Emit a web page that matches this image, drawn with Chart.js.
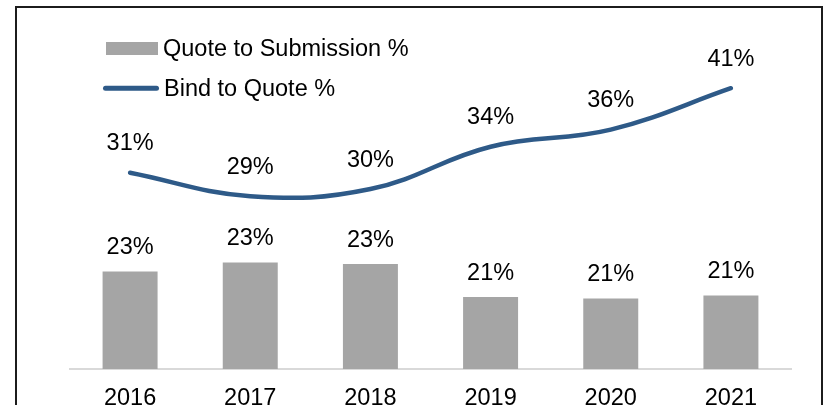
<!DOCTYPE html>
<html>
<head>
<meta charset="utf-8">
<script src="https://cdn.jsdelivr.net/npm/chart.js@4.4.1/dist/chart.umd.min.js"></script>
<style>
  html, body { margin: 0; padding: 0; background: #fff; overflow: hidden; }
  #frame { position: absolute; left: 15px; top: 6px; width: 804px; height: 430px; border: 2px solid #1c1c1c; }
  #wrap { position: absolute; left: 0; top: 0; width: 826px; height: 405px; }
</style>
</head>
<body>
<div id="frame"></div>
<div id="wrap"><canvas id="chart"></canvas></div>
<script>
const years = ['2016', '2017', '2018', '2019', '2020', '2021'];
const quoteToSubmission = [22.5, 23.1, 23.0, 20.8, 20.7, 20.9];
const bindToQuote = [31.3, 28.7, 29.5, 34.2, 36.1, 40.7];

const FONT = '"Liberation Sans", Arial, sans-serif';
const FONT_SIZE = 23.5;

const percentLabel = (value) => `${Math.round(value)}%`;

// legend sits inside the plot, top-left, one item per row
const insideLegend = {
    id: 'insideLegend',
    afterDraw(chart) {
        const { ctx } = chart;
        const [bars, line] = chart.data.datasets;
        ctx.save();
        ctx.font = `${FONT_SIZE}px ${FONT}`;
        ctx.textBaseline = 'alphabetic';

        ctx.fillStyle = bars.backgroundColor;
        ctx.fillRect(106, 42, 52, 13);
        ctx.fillStyle = '#000';
        ctx.fillText(bars.label, 163, 56);

        ctx.strokeStyle = line.borderColor;
        ctx.lineWidth = 5;
        ctx.lineCap = 'round';
        ctx.beginPath();
        ctx.moveTo(105.5, 88.3);
        ctx.lineTo(156.5, 88.3);
        ctx.stroke();
        ctx.fillText(line.label, 164, 95.5);
        ctx.restore();
    }
};

const valueLabels = {
    id: 'valueLabels',
    afterDatasetsDraw(chart) {
        const { ctx } = chart;
        ctx.save();
        ctx.font = `${FONT_SIZE}px ${FONT}`;
        ctx.fillStyle = '#000';
        ctx.textAlign = 'center';
        ctx.textBaseline = 'alphabetic';
        chart.data.datasets.forEach((ds, i) => {
            const meta = chart.getDatasetMeta(i);
            const gap = ds.type === 'line' ? 22.5 : 17.5;
            meta.data.forEach((el, j) => {
                ctx.fillText(percentLabel(ds.data[j]), el.x, el.y - gap);
            });
        });
        ctx.restore();
    }
};

new Chart(document.getElementById('chart'), {
    data: {
        labels: years,
        datasets: [
            {
                type: 'bar',
                label: 'Quote to Submission %',
                data: quoteToSubmission,
                backgroundColor: '#a5a5a5',
                yAxisID: 'yBar',
                categoryPercentage: 1,
                barPercentage: 0.4576,
                order: 1
            },
            {
                type: 'line',
                label: 'Bind to Quote %',
                data: bindToQuote,
                borderColor: '#2e5a88',
                borderWidth: 4.5,
                borderCapStyle: 'round',
                tension: 0.4,
                pointRadius: 0,
                fill: false,
                yAxisID: 'yLine',
                order: 0
            }
        ]
    },
    options: {
        responsive: true,
        maintainAspectRatio: false,
        animation: false,
        layout: { padding: { top: 9, left: 70, right: 35, bottom: 0 } },
        scales: {
            x: {
                grid: { display: false, drawTicks: false },
                border: { display: true, color: '#d9d9d9', width: 2 },
                ticks: { color: '#000', padding: 15.5, font: { family: FONT, size: FONT_SIZE } },
                afterFit: (scale) => { scale.height = 36; }
            },
            yBar: { display: false, min: 16, max: 40 },
            yLine: { display: false, min: 9.5, max: 49.5 }
        },
        plugins: {
            legend: { display: false },
            tooltip: { enabled: false }
        }
    },
    plugins: [valueLabels, insideLegend]
});
</script>
</body>
</html>
